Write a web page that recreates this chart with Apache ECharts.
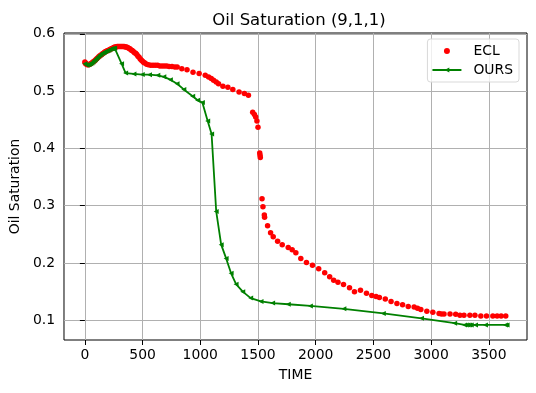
<!DOCTYPE html>
<html>
<head>
<meta charset="utf-8">
<script src="https://cdn.jsdelivr.net/npm/echarts@6/dist/echarts.min.js"></script>
<style>html,body{margin:0;padding:0;background:#fff}#c{width:536px;height:393px}</style>
</head>
<body>
<div id="c"></div>
<script>
var xTicks = [0, 500, 1000, 1500, 2000, 2500, 3000, 3500];
var yTicks = [0.1, 0.2, 0.3, 0.4, 0.5, 0.6];

var eclTime = [0,3,8,15,22,30,40,50,60,70,80,90,100,110,120,130,140,150,160,170,180,190,200,210,220,230,240,250,260,270,280,290,300,310,320,330,340,350,360,370,380,390,400,410,420,430,440,450,460,470,480,490,500,510,520,535,550,570,590,610,630,650,670,690,710,730,755,780,800,840,885,937,990,1043,1072,1095,1115,1138,1158,1196,1239,1282,1336,1382,1417,1454,1469,1480,1491,1500,1515,1518,1520,1535,1543,1555,1557,1583,1609,1632,1670,1710,1762,1796,1828,1871,1920,1972,2026,2078,2121,2156,2193,2241,2293,2336,2388,2440,2486,2523,2552,2603,2653,2704,2753,2802,2853,2882,2911,2963,3015,3069,3090,3112,3164,3213,3250,3285,3336,3380,3431,3480,3535,3572,3607,3647];
var eclSat = [0.551,0.549,0.548,0.547,0.546,0.546,0.547,0.548,0.549,0.551,0.552,0.554,0.556,0.558,0.560,0.562,0.563,0.565,0.566,0.568,0.569,0.570,0.571,0.572,0.573,0.574,0.575,0.576,0.577,0.577,0.578,0.578,0.578,0.578,0.578,0.578,0.578,0.577,0.577,0.576,0.575,0.574,0.572,0.571,0.569,0.567,0.566,0.564,0.561,0.559,0.556,0.554,0.552,0.550,0.549,0.547,0.546,0.545,0.545,0.545,0.545,0.544,0.544,0.544,0.544,0.543,0.543,0.542,0.542,0.539,0.5375,0.533,0.531,0.5276,0.5247,0.522,0.519,0.516,0.513,0.5085,0.507,0.503,0.4986,0.4958,0.493,0.463,0.4594,0.455,0.448,0.437,0.392,0.388,0.384,0.312,0.298,0.284,0.280,0.265,0.253,0.246,0.238,0.232,0.227,0.223,0.218,0.208,0.201,0.196,0.190,0.183,0.176,0.170,0.1665,0.1625,0.157,0.150,0.1526,0.147,0.1434,0.1417,0.140,0.137,0.133,0.1295,0.127,0.124,0.123,0.121,0.119,0.1156,0.1139,0.112,0.111,0.111,0.111,0.1104,0.109,0.109,0.109,0.109,0.1075,0.1075,0.1075,0.1075,0.1075,0.1075];

var oursTime = [0,10,20,30,40,50,60,70,80,90,100,110,120,130,140,150,160,170,180,190,200,210,220,230,240,250,258,318,353,425,497,560,632,684,741,799,857,934,977,1018,1064,1098,1138,1181,1224,1267,1310,1368,1437,1526,1627,1762,1954,2244,2586,2917,3204,3290,3305,3319,3334,3348,3385,3471,3644,3658];
var oursSat = [0.548,0.546,0.545,0.546,0.547,0.548,0.549,0.551,0.553,0.555,0.557,0.559,0.561,0.563,0.564,0.566,0.567,0.568,0.569,0.570,0.571,0.572,0.573,0.574,0.574,0.575,0.575,0.548,0.5316,0.530,0.529,0.5288,0.5276,0.525,0.520,0.513,0.503,0.491,0.484,0.480,0.448,0.425,0.290,0.232,0.208,0.182,0.163,0.150,0.1387,0.133,0.130,0.128,0.125,0.120,0.112,0.1035,0.095,0.092,0.092,0.092,0.092,0.092,0.092,0.092,0.092,0.092];

function zip(a, b) { return a.map(function (v, i) { return [v, b[i]]; }); }

var FONT = 'DejaVu Sans';
var chart = echarts.init(document.getElementById('c'), null, { renderer: 'canvas' });
chart.setOption({
  animation: false,
  backgroundColor: '#fff',
  textStyle: { fontFamily: FONT },
  title: {
    text: 'Oil Saturation (9,1,1)',
    left: 294, textAlign: 'center', top: 7,
    textStyle: { fontFamily: FONT, fontSize: 16.5, fontWeight: 'normal', color: '#000' }
  },
  grid: {
    left: 61, top: 33, right: 9, bottom: 53,
    show: true, borderColor: '#000', borderWidth: 1, backgroundColor: 'transparent'
  },
  legend: {
    orient: 'vertical', right: 17, top: 39,
    data: ['ECL', 'OURS'],
    itemWidth: 29, itemHeight: 6, itemGap: 5,
    padding: [5, 6, 5, 4],
    borderColor: '#d9d9d9', borderWidth: 1, borderRadius: 3,
    backgroundColor: 'rgba(255,255,255,0.8)',
    textStyle: { fontFamily: FONT, fontSize: 13.9, color: '#000', padding: [0, 0, 0, 7] }
  },
  xAxis: {
    type: 'value', min: -181, max: 3831,
    name: 'TIME', nameLocation: 'middle', nameGap: 28,
    nameTextStyle: { fontFamily: FONT, fontSize: 13.9, color: '#000' },
    axisLine: { show: false },
    axisTick: { show: true, length: 5, inside: false, customValues: xTicks, lineStyle: { color: '#000', width: 1 } },
    axisLabel: { customValues: xTicks, fontFamily: FONT, fontSize: 13.9, color: '#000', margin: 8,
      formatter: function (v) { return String(v); } },
    splitLine: { show: true, lineStyle: { color: '#b0b0b0', width: 1 } }
  },
  yAxis: {
    type: 'value', min: 0.0656, max: 0.6015,
    name: 'Oil Saturation', nameLocation: 'middle', nameGap: 38,
    nameTextStyle: { fontFamily: FONT, fontSize: 13.9, color: '#000' },
    axisLine: { show: false },
    axisTick: { show: true, length: 5, inside: false, customValues: yTicks, lineStyle: { color: '#000', width: 1 } },
    axisLabel: { customValues: yTicks, fontFamily: FONT, fontSize: 13.9, color: '#000', margin: 9,
      formatter: function (v) { return v.toFixed(1); } },
    splitLine: { show: true, lineStyle: { color: '#b0b0b0', width: 1 } }
  },
  series: [
    {
      name: 'ECL', type: 'scatter', data: zip(eclTime, eclSat),
      symbol: 'circle', symbolSize: 5.5,
      itemStyle: { color: '#ff0000', opacity: 1 },
      emphasis: { disabled: true }, z: 2
    },
    {
      name: 'OURS', type: 'line', data: zip(oursTime, oursSat),
      symbol: 'triangle', symbolSize: 5, symbolRotate: 90, showSymbol: true, showAllSymbol: true,
      itemStyle: { color: '#008000' },
      lineStyle: { color: '#008000', width: 1.8 },
      emphasis: { disabled: true }, z: 3
    }
  ]
});
</script>
</body>
</html>
